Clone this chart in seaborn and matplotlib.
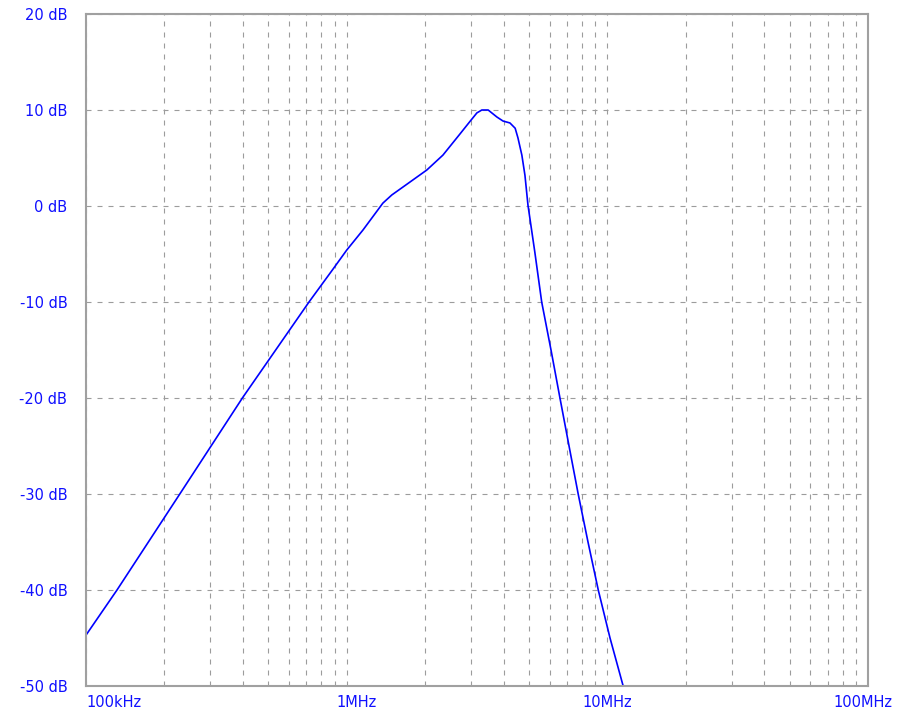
import numpy as np
import pandas as pd
import matplotlib
matplotlib.use("Agg")
import matplotlib.pyplot as plt
import matplotlib.transforms as mtransforms
from matplotlib.ticker import LogLocator, NullFormatter, FixedLocator
import seaborn as sns

# ---- data ----
freq_hz = [1.0e5, 1.315e5, 2.29e5, 3.98e5, 7.17e5, 8.85e5, 1.0e6, 1.155e6, 1.377e6,
           1.49e6, 1.75e6, 2.03e6, 2.34e6, 2.72e6, 2.97e6, 3.16e6, 3.30e6, 3.49e6,
           3.77e6, 3.98e6, 4.23e6, 4.43e6, 4.54e6, 4.70e6, 4.83e6, 4.96e6,
           5.27e6, 5.60e6, 6.08e6, 6.58e6, 7.13e6, 7.73e6, 8.43e6, 9.23e6, 10.24e6, 11.5e6]
gain_db = [-44.7, -40.0, -30.0, -20.0, -10.0, -6.6, -4.6, -2.5, 0.3,
           1.15, 2.5, 3.75, 5.3, 7.5, 8.8, 9.7, 10.0, 10.0,
           9.27, 8.85, 8.65, 8.1, 7.1, 5.3, 3.2, 0.1,
           -4.8, -10.0, -15.0, -20.0, -25.0, -30.0, -35.0, -40.0, -45.0, -50.0]

y_ticks = [20, 10, 0, -10, -20, -30, -40, -50]
y_tick_labels = ["20 dB", "10 dB", "0 dB", "-10 dB", "-20 dB", "-30 dB", "-40 dB", "-50 dB"]
x_ticks = [1e5, 1e6, 1e7, 1e8]
x_tick_labels = ["100kHz", "1MHz", "10MHz", "100MHz"]

df = pd.DataFrame({"freq": freq_hz, "gain": gain_db})

sns.set_style("white")
plt.rcParams["font.family"] = ["DejaVu Sans"]

fig = plt.figure(figsize=(9.0, 7.13), dpi=100)
ax = fig.add_axes([86 / 900, 1 - 686 / 713, 782 / 900, 672 / 713])

ax.set_xscale("log")
sns.lineplot(data=df, x="freq", y="gain", ax=ax, color="#0000ff",
             linewidth=1.2, estimator=None, sort=True)

ax.set_xlim(1e5, 1e8)
ax.set_ylim(-50, 20)

grid_color = "#9c9c9c"
dash = (0, (4.5, 5.4))
ax.set_yticks(y_ticks)
ax.set_yticklabels(y_tick_labels)
ax.yaxis.grid(True, color=grid_color, linestyle=dash, linewidth=0.8)
ax.xaxis.set_major_locator(FixedLocator(x_ticks))
ax.set_xticklabels(x_tick_labels)
ax.xaxis.set_minor_locator(LogLocator(base=10, subs=np.arange(2, 10), numticks=20))
ax.xaxis.set_minor_formatter(NullFormatter())
ax.xaxis.grid(True, which="both", color=grid_color, linestyle=dash, linewidth=0.8)

ax.tick_params(axis="both", which="both", length=0)
ax.tick_params(axis="y", pad=13.5, labelsize=10.5, labelcolor="#1010ff")
ax.tick_params(axis="x", pad=6.5, labelsize=10.5, labelcolor="#1010ff")

ax.set_xlabel("")
ax.set_ylabel("")

for s in ax.spines.values():
    s.set_color("#a0a0a0")
    s.set_linewidth(1.5)

labels = ax.get_xticklabels()
labels[0].set_horizontalalignment("left")
offset = mtransforms.ScaledTranslation(10 / 100, 0, fig.dpi_scale_trans)
labels[1].set_transform(labels[1].get_transform() + offset)
offset2 = mtransforms.ScaledTranslation(-5 / 100, 0, fig.dpi_scale_trans)
labels[3].set_transform(labels[3].get_transform() + offset2)

fig.savefig("out.png", dpi=100)
